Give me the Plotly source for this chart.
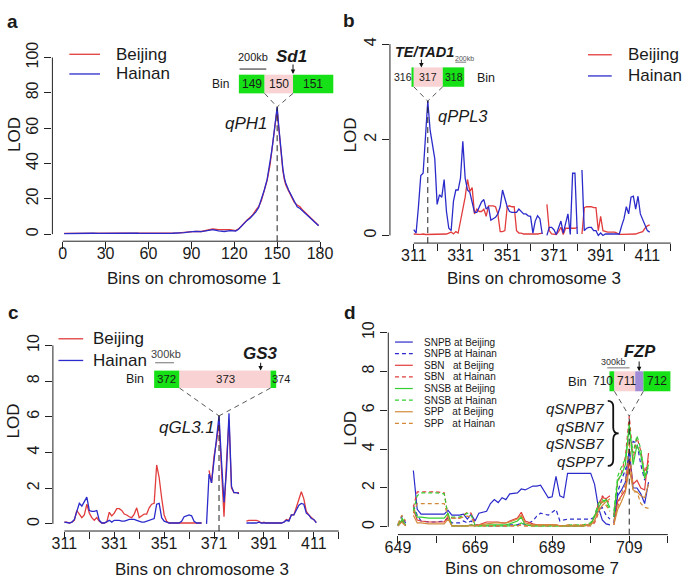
import plotly.graph_objects as go

W, H = 685, 580
FONT = "Liberation Sans, Arial, Helvetica, sans-serif"
TXT = "#1a1a1a"
AXC = "#222222"
RED = "#E23C3C"
BLUE = "#2B2BCB"
GREEN_L = "#33CF33"
ORANGE = "#D28A3A"
BOX_GREEN = "#16E016"
BOX_PINK = "#F9D3D3"
BOX_PURPLE = "#A08CD6"

# ---------------- panel a : chromosome 1 ----------------
a_bins = [1, 5, 9, 13, 17, 21, 25, 29, 33, 37, 41, 45, 49, 53, 57, 61, 65, 69, 73, 77, 81, 85, 89,
          93, 97, 101, 105, 109, 113, 117, 121,
          123, 125, 127, 129, 131, 133, 135, 137, 139, 141, 143,
          145, 146, 147, 148, 149, 150, 151, 152, 153, 154, 155, 156,
          158, 160, 162, 164, 166, 168, 170, 172, 174, 176, 178, 179]
a_beijing = [0.4, 0.4, 0.4, 0.5, 0.5, 0.6, 0.5, 0.5, 0.7, 0.8, 0.8, 0.7, 0.6, 0.6, 0.5, 0.5, 0.5, 0.5,
             0.5, 0.6, 0.7, 1.0, 1.5, 1.6, 1.5, 2.4, 2.9, 2.6, 2.6, 2.6, 2.0,
             3.0, 4.6, 6.5, 8.0, 9.5, 11.0, 13.5, 15.5, 19.0, 24.5, 30.5,
             39, 45, 51, 57, 63, 71, 61, 51, 43, 36, 31, 28,
             24.5, 21, 18, 16.5, 15.5, 13.5, 12, 10.5, 8.5, 7, 5.5, 4.9]
a_hainan = [0.3, 0.4, 0.3, 0.5, 0.4, 0.5, 0.4, 0.5, 0.6, 0.7, 0.8, 0.7, 0.6, 0.5, 0.4, 0.5, 0.4, 0.5,
            0.4, 0.5, 0.6, 0.9, 1.3, 1.6, 1.4, 2.2, 2.6, 1.8, 1.5, 2.0, 1.8,
            2.8, 4.5, 6.2, 7.8, 9.0, 10.5, 12.5, 15.0, 19.5, 25.0, 31.0,
            40, 46, 52, 58, 64, 72, 62, 52, 44, 37, 32, 29,
            25, 21.5, 18.5, 15.5, 14.5, 13, 11.5, 10, 8.5, 7, 5.5, 4.8]
a_xticks = [0, 30, 60, 90, 120, 150, 180]
a_yticks = [0, 20, 40, 60, 80, 100]
a_peak_bin = 150

# ---------------- panel b : chromosome 3 (plant panicle length) ----------------
b_bins = list(range(311, 413))
b_beijing = [0.03, 0.02, 0.02, 0.02, 0.03, 0.02, 0.02, 0.02, 0.03, 0.02,
             0.02, 0.03, 0.03, 0.02, 0.03, 0.05, 0.07, 0.03, 0.08, 0.05,
             0.3, 0.58, 0.8, 1.17, 0.92, 1.0, 0.45, 0.55, 0.5, 0.5,
             0.55, 0.4, 0.62, 0.62, 0.62, 0.6, 0.45, 0.08, 0.08, 0.1,
             0.6, 0.62, 0.6, 0.6, 0.1, 0.05, 0.05, 0.03, 0.03, 0.03,
             0.02, 0.02, 0.03, 0.03, 0.04, 0.05, None, 0.65, 0.1, 0.03,
             0.02, 0.02, 0.08, 0.17, 0.02, 0.15, 0.15, 0.15, 0.15, 0.15,
             0.17, None, 0.03, 0.58, 0.6, 0.6, 0.6, 0.58, 0.58, 0.1,
             0.4, 0.1, 0.08, 0.07, 0.07, 0.07, 0.07, 0.05, 0.02, 0.02,
             0.02, 0.02, 0.02, 0.02, 0.02, 0.03, 0.05, 0.07, 0.08, 0.15,
             0.2, 0.22]
b_hainan = [0.12, 0.05, 0.6, 1.25, 1.3, 2.0, 2.81, 2.2, 1.9, 1.6,
            0.65, 0.85, 0.8, 1.17, 0.5, 0.15, 0.1, 0.72, 0.95, 0.95,
            1.2, 1.97, 1.2, 0.95, 0.9, 0.65, 0.48, 0.48, 0.6, 0.7,
            0.75, 0.55, 0.6, 0.32, 0.35, 0.38, 0.45, 0.6, 0.95, 0.75,
            0.6, 0.5, 0.48, 0.48, 0.48, 0.55, 0.5, 0.45, 0.45, 0.41,
            0.4, 0.05, 0.3, 0.41, 0.35, 0.03, None, 0.0, 0.17, 0.17,
            0.12, 0.02, 0.15, 0.3, 0.05, 0.25, 0.45, 0.02, 1.3, 1.3,
            0.03, None, 1.37, 0.1, 0.15, 0.17, 0.17, 0.1, 0.1, 0.0,
            0.05, 0.0, 0.03, 0.03, 0.03, 0.03, 0.03, 0.03, 0.03, 0.2,
            0.35, 0.6, 0.45, 0.8, 0.82, 0.55, 0.82, 0.45, 0.32, 0.2,
            0.1, 0.07]
b_xticks = list(range(311, 422, 10))
b_xlabels = ["311", "", "331", "", "351", "", "371", "", "391", "", "411", ""]
b_yticks = [0, 2, 4]
b_peak_bin = 317

# ---------------- panel c : chromosome 3 (grain length) ----------------
c_bins = list(range(311, 413))
c_beijing = [0.1, 0.1, 0.05, 0.1, 0.2, 0.75, 0.55, 0.35, 0.5, 1.1,
             0.6, 0.35, 0.2, 0.35, 0.15, 0.05, 0.05, 0.1, 0.65, 0.45,
             0.6, 0.85, 0.85, 0.75, 0.55, 0.5, 0.4, 0.35, 0.55, 0.9,
             0.35, 0.45, 0.55, 0.55, 0.9, 1.1, 1.15, 3.3, 2.6, 1.45,
             0.5, 0.15, 0.05, 0.05, 0.05, 0.05, 0.05, 0.05, 0.05, 0.05,
             0.05, 0.05, 0.05, 0.05, 0.05, 0.05, None, None, 3.0, 2.3,
             3.8, 4.6, 5.7, 3.2, 0.4, 3.5, 5.8, 2.0, 1.75, 1.75,
             1.75, None, None, 0.15, 0.2, 0.2, 0.2, 0.2, 0.15, 0.05,
             0.1, 0.05, 0.05, 0.05, 0.05, 0.05, 0.05, 0.05, 0.1, 0.25,
             0.2, 0.5, 0.5, 0.9, 1.3, 1.8, 1.4, 0.7, 0.5, 0.35,
             0.25, 0.1]
c_hainan = [0.1, 0.08, 0.05, 0.1, 0.25, 0.7, 1.15, 1.0, 1.25, 1.5,
            0.75, 0.7, 0.7, 0.75, 0.2, 0.05, 0.05, 0.15, 0.2, 0.1,
            0.2, 0.2, 0.2, 0.15, 0.15, 0.2, 0.25, 0.25, 0.25, 0.2,
            0.15, 0.1, 0.1, 0.15, 0.2, 0.25, 0.3, 1.1, 1.15, 0.35,
            0.15, 0.1, 0.05, 0.05, 0.05, 0.05, 0.05, 0.15, 0.4, 0.45,
            0.5, 0.45, 0.15, 0.05, 0.05, 0.05, None, 0.0, 2.8, 2.3,
            3.6, 4.8, 6.05, 3.5, 1.2, 3.0, 6.2, 2.1, 1.75, 1.75,
            1.7, None, None, 0.05, 0.05, 0.05, 0.05, 0.05, 0.1, 0.05,
            0.05, 0.05, 0.05, 0.05, 0.05, 0.05, 0.05, 0.05, 0.1, 0.2,
            0.15, 0.5, 0.5, 0.8, 1.05, 1.15, 1.1, 0.6, 0.5, 0.3,
            0.25, 0.05]
c_xticks = list(range(311, 422, 10))
c_xlabels = ["311", "", "331", "", "351", "", "371", "", "391", "", "411", ""]
c_yticks = [0, 2, 4, 6, 8, 10]
c_peak_bin = 373

# ---------------- panel d : chromosome 7 ----------------
d_bins_left = [649, 650, 651]
d_bins_main = [653, 654, 655, 657, 659, 661, 662, 663, 665, 666, 667, 668, 669, 670, 672, 673, 674,
               675, 676, 677, 678, 680, 681, 682, 684, 685, 686, 688, 689, 690, 691, 692, 693, 695,
               697, 699, 700, 701, 702, 703, 704]
d_bins_right = [705, 706, 707, 708, 709, 710, 711, 712, 713, 714]

snpb_beijing_left = [0.05, 0.3, 0.1]
snpb_beijing_main = [2.9, 0.9, 0.65, 0.65, 0.65, 0.65, 0.85, 0.6, 0.6, 0.65, 0.4, 0.65, 0.3, 0.7, 0.8,
                     1.2, 1.4, 1.25, 1.5, 1.4, 1.7, 1.75, 1.95, 1.9, 2.1, 2.1, 2.15, 1.5, 1.55, 2.6,
                     1.6, 1.5, 2.75, 2.75, 2.75, 2.75, 2.2, 1.0, 0.35, 0.15, 0.1]
snpb_beijing_right = [0.2, 1.6, 1.9, 2.3, 4.0, 2.0, 2.0, 1.7, 1.2, 2.3]

snpb_hainan_left = [0.1, 0.55, 0.2]
snpb_hainan_main = [1.1, 0.6, 0.3, 0.25, 0.25, 0.3, 0.45, 0.2, 0.2, 0.3, 0.2, 0.3, 0.1, 0.1, 0.05,
                    0.05, 0.05, 0.05, 0.05, 0.05, 0.1, 0.1, 0.2, 0.1, 0.3, 0.55, 0.7, 0.6, 0.75, 0.9,
                    0.3, 0.35, 0.4, 0.4, 0.4, 0.4, 0.5, 0.85, 1.0, 0.6, 0.4]
snpb_hainan_right = [0.5, 1.8, 2.4, 3.0, 3.5, 4.4, 4.3, 3.2, 2.4, 3.0]

sbn_beijing_left = [0.05, 0.3, 0.05]
sbn_beijing_main = [0.9, 0.35, 0.3, 0.25, 0.25, 0.25, 0.55, 0.05, 0.05, 0.05, 0.05, 0.1, 0.05, 0.1,
                    0.25, 0.25, 0.25, 0.25, 0.2, 0.2, 0.3, 0.45, 0.75, 0.3, 0.15, 0.1, 0.1, 0.1, 0.1,
                    0.1, 0.05, 0.05, 0.05, 0.05, 0.05, 0.15, 0.5, 1.2, 1.5, 1.45, 1.6]
sbn_beijing_right = [0.1, 1.3, 1.6, 1.9, 3.4, 2.2, 2.4, 2.0, 1.9, 3.8]

sbn_hainan_left = [0.1, 0.4, 0.15]
sbn_hainan_main = [1.0, 1.8, 1.8, 1.8, 1.8, 1.75, 0.55, 0.45, 0.45, 0.6, 0.75, 0.7, 0.1, 0.05, 0.05,
                   0.05, 0.05, 0.05, 0.05, 0.05, 0.05, 0.05, 0.1, 0.05, 0.05, 0.05, 0.05, 0.05, 0.05,
                   0.05, 0.05, 0.05, 0.05, 0.05, 0.05, 0.05, 0.2, 0.7, 1.6, 1.4, 1.2]
sbn_hainan_right = [0.6, 2.3, 2.8, 3.6, 5.7, 3.5, 4.6, 3.9, 2.8, 3.4]

snsb_beijing_left = [0.05, 0.35, 0.1]
snsb_beijing_main = [1.0, 0.5, 0.5, 0.45, 0.45, 0.45, 0.7, 0.05, 0.05, 0.05, 0.05, 0.1, 0.05, 0.05,
                     0.1, 0.1, 0.1, 0.1, 0.1, 0.1, 0.15, 0.3, 0.5, 0.1, 0.05, 0.05, 0.05, 0.05, 0.05,
                     0.05, 0.05, 0.05, 0.05, 0.05, 0.05, 0.1, 0.6, 1.0, 1.3, 1.4, 1.0]
snsb_beijing_right = [0.5, 2.4, 2.7, 3.2, 5.3, 3.2, 4.2, 3.7, 2.5, 3.2]

snsb_hainan_left = [0.1, 0.45, 0.2]
snsb_hainan_main = [0.8, 1.6, 1.75, 1.75, 1.75, 1.7, 0.55, 0.5, 0.5, 0.6, 0.7, 0.6, 0.1, 0.05, 0.05,
                    0.05, 0.05, 0.05, 0.05, 0.05, 0.05, 0.1, 0.2, 0.1, 0.05, 0.05, 0.05, 0.05, 0.05,
                    0.05, 0.05, 0.05, 0.1, 0.1, 0.1, 0.2, 0.6, 1.2, 1.4, 1.2, 0.9]
snsb_hainan_right = [0.8, 2.6, 3.1, 3.5, 5.0, 3.8, 4.7, 4.0, 2.6, 3.0]

spp_beijing_left = [0.05, 0.25, 0.05]
spp_beijing_main = [0.6, 0.2, 0.2, 0.15, 0.15, 0.15, 0.4, 0.05, 0.05, 0.05, 0.05, 0.05, 0.05, 0.1,
                    0.15, 0.2, 0.2, 0.2, 0.2, 0.2, 0.25, 0.4, 0.6, 0.2, 0.1, 0.1, 0.1, 0.1, 0.1, 0.1,
                    0.05, 0.05, 0.05, 0.05, 0.05, 0.1, 0.3, 0.8, 1.1, 1.3, 1.45]
spp_beijing_right = [0.1, 0.9, 1.3, 1.8, 3.0, 1.9, 1.8, 1.6, 1.5, 2.2]

spp_hainan_left = [0.15, 0.6, 0.3]
spp_hainan_main = [0.7, 1.2, 1.2, 1.2, 1.2, 1.2, 0.5, 0.45, 0.45, 0.5, 0.55, 0.5, 0.1, 0.05, 0.05,
                   0.05, 0.05, 0.05, 0.05, 0.05, 0.05, 0.05, 0.1, 0.05, 0.05, 0.05, 0.05, 0.05, 0.05,
                   0.05, 0.05, 0.05, 0.1, 0.1, 0.1, 0.1, 0.3, 0.9, 1.3, 1.1, 0.8]
spp_hainan_right = [0.3, 1.0, 1.7, 2.2, 4.4, 1.8, 1.8, 1.2, 1.0, 0.95]

d_labels = ["SNPB at Beijing", "SNPB at Hainan",
            "SBN\u00a0\u00a0\u00a0at Beijing", "SBN\u00a0\u00a0\u00a0at Hainan",
            "SNSB at Beijing", "SNSB at Hainan",
            "SPP\u00a0\u00a0\u00a0at Beijing", "SPP\u00a0\u00a0\u00a0at Hainan"]
d_xticks = list(range(649, 720, 10))
d_xlabels = ["649", "", "669", "", "689", "", "709", ""]
d_yticks = [0, 2, 4, 6, 8, 10]
d_peak_bin = 709
d_qtl_names = ["qSNPB7", "qSBN7", "qSNSB7", "qSPP7"]

# ---------------- geometry (pixel calibration of each panel) ----------------
GEOM = {
    "a": dict(xt=(0, 59.3, 180, 319.3), yt=(0, 228.7, 100, 49.3), xr=(-7.2, 187.2), yr=(-4, 104)),
    "b": dict(xt=(311, 414.0, 411, 650.0), yt=(0, 230.0, 4, 35.7), xr=(300.8, 425.2), yr=(-0.16, 4.16)),
    "c": dict(xt=(311, 61.0, 411, 313.0), yt=(0, 523.0, 10, 341.7), xr=(306.4, 423.5), yr=(-0.4, 10.4)),
    "d": dict(xt=(649, 398.0, 709, 631.7), yt=(0, 526.0, 10, 328.7), xr=(646.5, 720.5), yr=(-0.4, 10.4)),
}
AXKEY = {"a": ("x", "y"), "b": ("x2", "y2"), "c": ("x3", "y3"), "d": ("x4", "y4")}


def mapper(p):
    g = GEOM[p]
    xv1, xp1, xv2, xp2 = g["xt"]
    yv1, yp1, yv2, yp2 = g["yt"]
    sx = (xp2 - xp1) / (xv2 - xv1)
    sy = (yp2 - yp1) / (yv2 - yv1)
    return (lambda v: xp1 + (v - xv1) * sx), (lambda v: yp1 + (v - yv1) * sy)


def PX(x):
    return x / W


def PY(y):
    return 1 - y / H


shapes = []
annotations = []


def line_px(x0, y0, x1, y1, color, width=1.0, dash="solid"):
    shapes.append(dict(type="line", xref="paper", yref="paper", x0=PX(x0), y0=PY(y0), x1=PX(x1),
                       y1=PY(y1), line=dict(color=color, width=width, dash=dash), layer="above"))


def rect_px(x0, y0, x1, y1, fill):
    shapes.append(dict(type="rect", xref="paper", yref="paper", x0=PX(x0), y0=PY(y1), x1=PX(x1),
                       y1=PY(y0), fillcolor=fill, line=dict(width=0), layer="above"))


def text_px(x, y, s, size, anchor="center", color=TXT, angle=0):
    annotations.append(dict(xref="paper", yref="paper", x=PX(x), y=PY(y), text=s, showarrow=False,
                            xanchor=anchor, yanchor="middle", textangle=angle,
                            font=dict(family=FONT, size=size, color=color)))


def arrow_px(x, ytip, ytail):
    annotations.append(dict(xref="paper", yref="paper", x=PX(x), y=PY(ytip), text="", showarrow=True,
                            ax=0, ay=-(ytip - ytail), arrowhead=2, arrowsize=0.9, arrowwidth=1,
                            arrowcolor="#111111"))


fig = go.Figure()

# ---- traces ----
def add_line(p, xs, ys, color, dash="solid", width=1.3, name=""):
    xa, ya = AXKEY[p]
    fig.add_trace(go.Scatter(x=xs, y=ys, mode="lines", name=name, showlegend=False,
                             line=dict(color=color, width=width, dash=dash),
                             xaxis=xa, yaxis=ya, hoverinfo="skip"))


add_line("a", a_bins, a_beijing, RED, name="Beijing")
add_line("a", a_bins, a_hainan, BLUE, name="Hainan")
add_line("b", b_bins, b_beijing, RED, name="Beijing")
add_line("b", b_bins, b_hainan, BLUE, name="Hainan")
add_line("c", c_bins, c_beijing, RED, name="Beijing")
add_line("c", c_bins, c_hainan, BLUE, name="Hainan")

DASH = "4px,3px"
d_series = [
    (snpb_beijing_left, snpb_beijing_main, snpb_beijing_right, BLUE, "solid"),
    (snpb_hainan_left, snpb_hainan_main, snpb_hainan_right, BLUE, DASH),
    (sbn_beijing_left, sbn_beijing_main, sbn_beijing_right, RED, "solid"),
    (sbn_hainan_left, sbn_hainan_main, sbn_hainan_right, RED, DASH),
    (snsb_beijing_left, snsb_beijing_main, snsb_beijing_right, GREEN_L, "solid"),
    (snsb_hainan_left, snsb_hainan_main, snsb_hainan_right, GREEN_L, DASH),
    (spp_beijing_left, spp_beijing_main, spp_beijing_right, ORANGE, "solid"),
    (spp_hainan_left, spp_hainan_main, spp_hainan_right, ORANGE, DASH),
]
d_x = d_bins_left + [None] + d_bins_main + [None] + d_bins_right
for (l, m, r, col, dsh), lab in zip(d_series, d_labels):
    assert len(l) == len(d_bins_left) and len(m) == len(d_bins_main) and len(r) == len(d_bins_right), lab
    add_line("d", d_x, l + [None] + m + [None] + r, col, dsh, 1.2, lab)

# ---- axes ----
layout_axes = {}
tick_info = {
    "a": (a_xticks, [str(v) for v in a_xticks], a_yticks),
    "b": (b_xticks, b_xlabels, b_yticks),
    "c": (c_xticks, c_xlabels, c_yticks),
    "d": (d_xticks, d_xlabels, d_yticks),
}
for p in "abcd":
    fx, fy = mapper(p)
    g = GEOM[p]
    xk, yk = AXKEY[p]
    xt, xl, yt = tick_info[p]
    xname = "xaxis" if xk == "x" else "xaxis" + xk[1:]
    yname = "yaxis" if yk == "y" else "yaxis" + yk[1:]
    common = dict(showgrid=False, zeroline=False, showline=False, ticks="outside", ticklen=7,
                  tickwidth=1, tickcolor=AXC, tickfont=dict(family=FONT, size=16, color=TXT),
                  fixedrange=True)
    layout_axes[xname] = dict(domain=[PX(fx(g["xr"][0])), PX(fx(g["xr"][1]))], range=list(g["xr"]),
                              anchor=yk, tickmode="array", tickvals=xt, ticktext=xl,
                              ticklabelstandoff=-9, **common)
    layout_axes[yname] = dict(domain=[PY(fy(g["yr"][0])), PY(fy(g["yr"][1]))], range=list(g["yr"]),
                              anchor=xk, tickmode="array", tickvals=yt, ticktext=[str(v) for v in yt],
                              tickangle=-90, **common)
    # R-style axis lines spanning first..last tick
    ybase = fy(g["yr"][0])
    xbase = fx(g["xr"][0])
    line_px(fx(xt[0]), ybase, fx(xt[-1]), ybase, AXC, 1)
    line_px(xbase, fy(yt[0]), xbase, fy(yt[-1]), AXC, 1)

# ---- axis titles and panel letters ----
text_px(10, 127, "LOD", 17, angle=-90)
text_px(192, 274, "Bins on chromosome 1", 17)
text_px(350, 128, "LOD", 17, angle=-90)
text_px(535, 274, "Bins on chromosome 3", 17)
text_px(10, 418, "LOD", 17, angle=-90)
text_px(200, 569, "Bins on chromosome 3", 17)
text_px(350, 426, "LOD", 17, angle=-90)
text_px(533, 568, "Bins on chromosome 7", 17)
text_px(8.5, 13, "<b>a</b>", 19)
text_px(348.5, 12, "<b>b</b>", 19)
text_px(10, 308, "<b>c</b>", 19)
text_px(350, 308, "<b>d</b>", 19)

# ---- legends ----
def legend(items, x0, y0, dy, llen, gap, size, width=1.3):
    for i, (label, color, dash) in enumerate(items):
        y = y0 + i * dy
        line_px(x0, y, x0 + llen, y, color, width, dash)
        text_px(x0 + llen + gap, y, label, size, anchor="left")


env_labels = ["Beijing", "Hainan"]
legend([(env_labels[0], RED, "solid"), (env_labels[1], BLUE, "solid")], 66, 46, 20, 31, 14, 17)
legend([(env_labels[0], RED, "solid"), (env_labels[1], BLUE, "solid")], 590, 46.5, 21.5, 24, 14, 17)
legend([(env_labels[0], RED, "solid"), (env_labels[1], BLUE, "solid")], 55, 335, 22, 25, 8, 17)
legend([(lab, s[3], s[4]) for lab, s in zip(d_labels, d_series)], 395, 338.3, 11.8, 18, 9, 10, 1.2)

# ---- gene insets ----
def peak_link(p, pbin, pval, left_px, right_px, ybox):
    fx, fy = mapper(p)
    px, py = fx(pbin), fy(pval)
    line_px(left_px, ybox, px, py, "#444444", 0.9, "5px,4px")
    line_px(right_px, ybox, px, py, "#444444", 0.9, "5px,4px")
    line_px(px, fy(GEOM[p]["yr"][0]), px, py, "#222222", 1, "6px,4px")


# panel a
text_px(218.7, 76.5, "Bin", 12)
rect_px(237.3, 66.7, 263.3, 85.7, BOX_GREEN)
rect_px(263.3, 66.7, 292.0, 85.7, BOX_PINK)
rect_px(292.0, 66.7, 332.7, 85.7, BOX_GREEN)
text_px(250.3, 76.5, "149", 12)
text_px(277.7, 76.5, "150", 12)
text_px(312.3, 76.5, "151", 12)
text_px(252, 49, "200kb", 11)
line_px(238, 61, 265, 61, "#222222", 1)
text_px(290.7, 48.3, "<b><i>Sd1</i></b>", 17)
arrow_px(292, 66, 55)
peak_link("a", a_peak_bin, a_hainan[a_bins.index(a_peak_bin)], 263.3, 292.0, 85.7)
text_px(245, 116.7, "<i>qPH1</i>", 17)

# panel b
text_px(424.5, 43.3, "<b><i>TE/TAD1</i></b>", 14.5)
arrow_px(421.7, 59.3, 50)
text_px(465, 49.8, "200kb", 7, color="#555555")
line_px(456, 54, 467, 54, "#777777", 1)
rect_px(411.7, 59.3, 414.0, 79.0, BOX_GREEN)
rect_px(414.0, 59.3, 443.3, 79.0, BOX_PINK)
rect_px(443.3, 59.3, 465.0, 79.0, BOX_GREEN)
text_px(403.5, 69.5, "316", 10.5)
text_px(428.7, 69.5, "317", 10.5)
text_px(454.2, 69.5, "318", 10.5)
text_px(486.7, 70, "Bin", 12.5)
peak_link("b", b_peak_bin, b_hainan[b_bins.index(b_peak_bin)], 414.0, 443.3, 79.0)
text_px(463.3, 108.3, "<i>qPPL3</i>", 16.5)

# panel c
text_px(163.3, 350, "300kb", 11, color="#444444")
line_px(152.7, 359.3, 171.7, 359.3, "#888888", 1.2)
text_px(259.3, 350, "<b><i>GS3</i></b>", 17)
arrow_px(259.3, 367.3, 358)
text_px(132.7, 376, "Bin", 12.5)
rect_px(151.7, 367.3, 177.3, 385.0, BOX_GREEN)
rect_px(177.3, 367.3, 269.3, 385.0, BOX_PINK)
rect_px(269.3, 367.3, 275.0, 385.0, BOX_GREEN)
text_px(164.5, 376, "372", 11.5)
text_px(223.3, 376, "373", 11.5)
text_px(280, 376, "374", 11)
peak_link("c", c_peak_bin, c_hainan[c_bins.index(c_peak_bin)], 177.3, 269.3, 385.0)
text_px(185, 425, "<i>qGL3.1</i>", 17)

# panel d
text_px(643, 347, "<b><i>FZP</i></b>", 16.5)
text_px(616, 359, "300kb", 9, color="#333333")
line_px(609.5, 364.5, 632, 364.5, "#888888", 1.2)
arrow_px(641.7, 368, 356.7)
text_px(579, 378.3, "Bin", 13)
rect_px(611.7, 368.0, 616.7, 388.3, BOX_GREEN)
rect_px(616.7, 368.0, 637.7, 388.3, BOX_PINK)
rect_px(637.7, 368.0, 646.0, 388.3, BOX_PURPLE)
rect_px(646.0, 368.0, 673.3, 388.3, BOX_GREEN)
text_px(605, 378.3, "710", 12)
text_px(629.3, 378.3, "711", 12)
text_px(660, 378.3, "712", 12)
d_peak_val = max(s[2][d_bins_right.index(d_peak_bin)] for s in d_series)
peak_link("d", d_peak_bin, d_peak_val, 616.7, 646.0, 388.3)
for i, nm in enumerate(d_qtl_names):
    text_px(608, 406 + i * 17.8, "<i>" + nm + "</i>", 15, anchor="right")
# brace
bx0, bw, btop, bbot, r = 610.0, 11.0, 398.0, 464.0, 6.0
bym = (btop + bbot) / 2
bxm = bx0 + bw / 2
path = (f"M {PX(bx0)},{PY(btop)} Q {PX(bxm)},{PY(btop)} {PX(bxm)},{PY(btop + r)} "
        f"L {PX(bxm)},{PY(bym - r)} Q {PX(bxm)},{PY(bym)} {PX(bx0 + bw)},{PY(bym)} "
        f"Q {PX(bxm)},{PY(bym)} {PX(bxm)},{PY(bym + r)} L {PX(bxm)},{PY(bbot - r)} "
        f"Q {PX(bxm)},{PY(bbot)} {PX(bx0)},{PY(bbot)}")
shapes.append(dict(type="path", xref="paper", yref="paper", path=path,
                   line=dict(color="#111111", width=1.8), layer="above"))

fig.update_layout(
    width=W, height=H, margin=dict(l=0, r=0, t=0, b=0),
    paper_bgcolor="white", plot_bgcolor="white",
    showlegend=False, shapes=shapes, annotations=annotations,
    font=dict(family=FONT, color=TXT),
    **layout_axes,
)

fig.write_html("out.html", config={"displayModeBar": False},
               post_script="document.body.style.margin='0px';")
